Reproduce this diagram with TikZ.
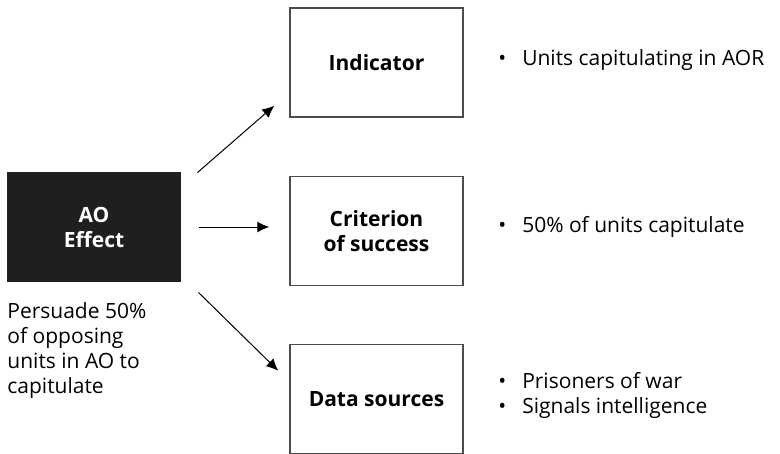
\documentclass[tikz,border=0pt]{standalone}
\usepackage{fontspec}
\setmainfont{Open Sans}
\usepackage{tikz}
\usetikzlibrary{arrows.meta}

\begin{document}
\begin{tikzpicture}[x=0.5pt,y=-0.5pt,
		box/.style={draw=black!70,line width=0.75pt,minimum width=86.5pt,minimum height=54.5pt,
			align=center,font=\fontsize{10.5}{12.5}\selectfont\bfseries},
		effbox/.style={fill=black!88,text=white,minimum width=87pt,minimum height=55pt,
			align=center,font=\fontsize{10.5}{12.5}\selectfont\bfseries},
		note/.style={anchor=west,inner sep=0pt,align=left,font=\fontsize{10.5}{12.5}\selectfont},
		link/.style={-{Latex[length=6pt,width=5.5pt]},line width=0.5pt}]
			\useasboundingbox (0,0) rectangle (780,454);
			
			% effect
			\node[effbox] (eff) at (94,227) {AO\\Effect};
			\node[note,anchor=north west] (goal) at (7,302) {Persuade 50\%\\of opposing\\units in AO to\\capitulate};
			
			% measures
			\node[box] (ind) at (376.5,62.5) {Indicator};
			\node[box] (crit) at (376.5,231) {Criterion\\of success};
			\node[box] (data) at (376.5,399) {Data sources};
			
			\node[note] (indtxt) at (498,60) {•\hspace{8pt}Units capitulating in AOR};
			\node[note] (crittxt) at (498,227) {•\hspace{8pt}50\% of units capitulate};
			\node[note] (datatxt) at (498,395) {•\hspace{8pt}Prisoners of war\\•\hspace{8pt}Signals intelligence};
			
			\draw[link] ([shift={(16,1)}]eff.north east) -- ([shift={(-15,-12)}]ind.south west);
			\draw[link] ([shift={(18,0)}]eff.east) -- ([shift={(-20,0)}]eff.east -| crit.west);
			\draw[link] ([shift={(17,10)}]eff.south east) -- ([shift={(-11,27)}]data.north west);
		\end{tikzpicture}
\end{document}
